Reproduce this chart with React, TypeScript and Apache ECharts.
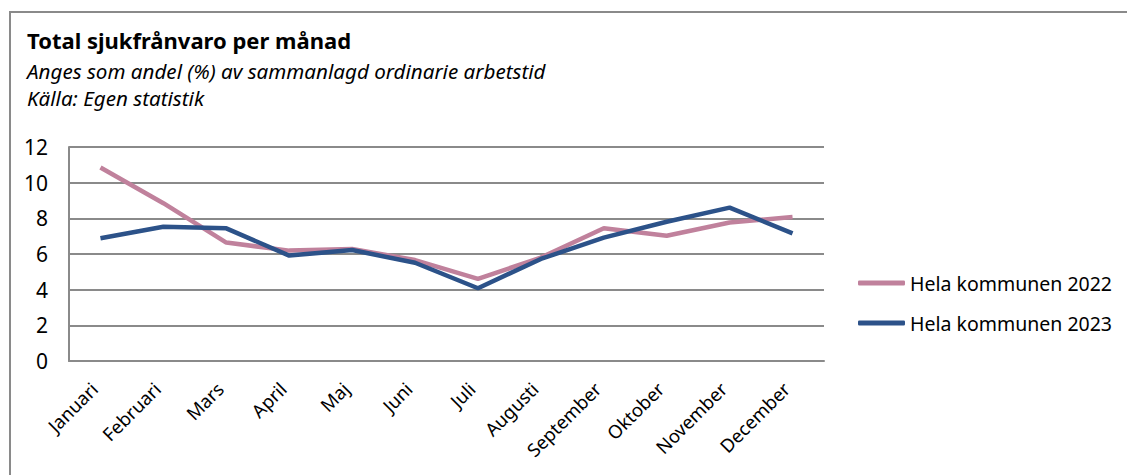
import React, { useEffect, useRef } from "react";
import * as echarts from "echarts";

const categories = ["Januari", "Februari", "Mars", "April", "Maj", "Juni", "Juli", "Augusti", "September", "Oktober", "November", "December"];
const series2022 = [10.85, 8.85, 6.64, 6.19, 6.28, 5.66, 4.6, 5.8, 7.44, 7.02, 7.77, 8.07];
const series2023 = [6.88, 7.53, 7.44, 5.91, 6.22, 5.51, 4.08, 5.72, 6.92, 7.81, 8.6, 7.16];
const yTicks = { min: 0, max: 12, interval: 2 };
const seriesNames = ["Hela kommunen 2022", "Hela kommunen 2023"];
const titleText = "Total sjukfrånvaro per månad";
const subText1 = "Anges som andel (%) av sammanlagd ordinarie arbetstid";
const subText2 = "Källa: Egen statistik";

const FONT = "'Noto Sans', 'Open Sans', sans-serif";

export default function App() {
  const ref = useRef<HTMLDivElement>(null);
  useEffect(() => {
    if (!ref.current) return;
    const chart = echarts.init(ref.current, undefined, { renderer: "svg" });
    chart.setOption({
      animation: false,
      backgroundColor: "#ffffff",
      textStyle: { fontFamily: FONT },
      graphic: [
        {
          type: "rect",
          shape: { x: 10, y: 12, width: 1200, height: 500 },
          style: { fill: "none", stroke: "#8a8a8a", lineWidth: 2 },
          silent: true,
        },
        {
          type: "text",
          left: 27,
          top: 29,
          style: { text: titleText, font: `bold 22px ${FONT}`, fill: "#000" },
        },
        {
          type: "text",
          left: 27,
          top: 60,
          style: { text: subText1, font: `italic 20.6px ${FONT}`, fill: "#000" },
        },
        {
          type: "text",
          left: 27,
          top: 87,
          style: { text: subText2, font: `italic 20.6px ${FONT}`, fill: "#000" },
        },
      ],
      grid: { left: 69, top: 147, right: 303, bottom: 114, containLabel: false },
      legend: {
        orient: "vertical",
        left: 853,
        top: 268,
        itemWidth: 47,
        itemHeight: 5,
        itemGap: 20,
        icon: "roundRect",
        textStyle: { fontFamily: FONT, fontSize: 19.5, color: "#000" },
        data: seriesNames,
      },
      xAxis: {
        type: "category",
        data: categories,
        boundaryGap: true,
        axisLine: { show: true, lineStyle: { color: "#8a8a8a", width: 2 } },
        axisTick: { show: false },
        axisLabel: {
          rotate: 45,
          fontSize: 18.5,
          color: "#000",
          margin: 18,
          padding: [0, 9, 0, 0],
          fontFamily: FONT,
          interval: 0,
        },
      },
      yAxis: {
        type: "value",
        min: yTicks.min,
        max: yTicks.max,
        interval: yTicks.interval,
        axisLine: { show: true, lineStyle: { color: "#8a8a8a", width: 2 } },
        axisTick: { show: false },
        axisLabel: { fontSize: 21, color: "#000", margin: 21, fontFamily: FONT },
        splitLine: { show: true, lineStyle: { color: "#8a8a8a", width: 2 } },
      },
      series: [
        {
          name: seriesNames[0],
          type: "line",
          data: series2022,
          showSymbol: false,
          symbol: "none",
          lineStyle: { color: "#c0819c", width: 4.5 },
          itemStyle: { color: "#c0819c" },
        },
        {
          name: seriesNames[1],
          type: "line",
          data: series2023,
          showSymbol: false,
          symbol: "none",
          lineStyle: { color: "#2c5289", width: 4.5 },
          itemStyle: { color: "#2c5289" },
        },
      ],
    });
    return () => chart.dispose();
  }, []);
  return <div ref={ref} style={{ position: "fixed", left: 0, top: 0, width: 1127, height: 475 }} />;
}
